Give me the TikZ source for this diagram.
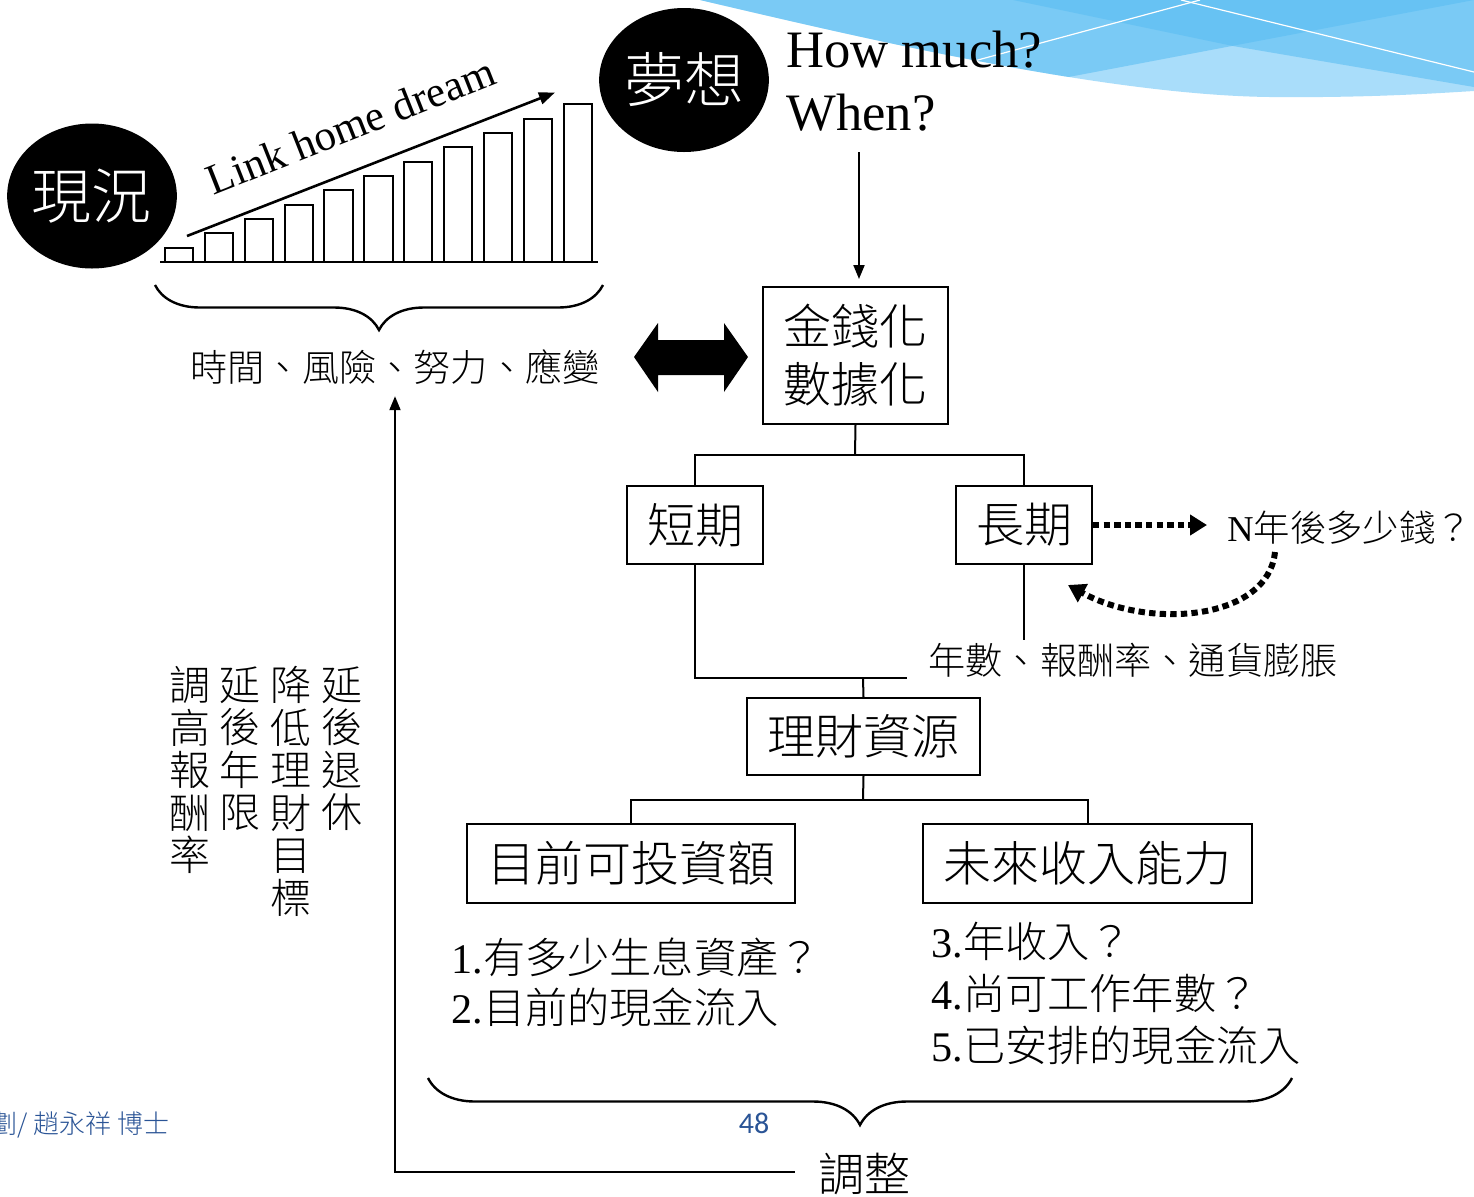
\documentclass[tikz,border=0pt]{standalone}
\usepackage{fontspec}
\setmainfont{Liberation Serif}
\IfFontExistsTF{Noto Sans CJK TC Light}
  {\newfontfamily\cjk{Noto Sans CJK TC Light}}
  {\newfontfamily\cjk{Noto Sans CJK TC}}
\newfontfamily\numfont{Carlito}
\usetikzlibrary{shapes.geometric,decorations.pathreplacing,arrows.meta}
\definecolor{swA}{HTML}{A9DDFA}
\definecolor{swB}{HTML}{5BBEF3}
\definecolor{footblue}{HTML}{2A5496}
\setlength{\lineskiplimit}{-20pt}
\begin{document}
\begin{tikzpicture}[x=0.5pt,y=-0.5pt,
  conn/.style={line width=1pt},
  arr/.style={line width=1pt,-{Triangle[length=7pt,width=5.5pt]}},
  barline/.style={line width=1pt},
  box/.style={draw,line width=1pt,inner sep=0pt,align=center,
    font=\cjk\fontsize{24}{29}\selectfont},
  blob/.style={ellipse,fill=black,text=white,inner sep=0pt,
    font=\cjk\fontsize{30}{30}\selectfont},
  zhsmall/.style={inner sep=0pt,font=\cjk\fontsize{18.6}{22}\selectfont},
  item/.style={inner sep=0pt,anchor=west,font=\fontsize{21.1}{24}\selectfont},
  vcol/.style={inner sep=0pt,align=center,
    font=\cjk\fontsize{20.5}{21.25}\selectfont},
  latin/.style={inner sep=0pt,font=\fontsize{26.3}{30}\selectfont},
  brc/.style={line width=1.2pt,decorate,decoration={brace,mirror,amplitude=#1}},
  dotarrow/.style={line width=3pt,dash pattern=on 3.2pt off 2.1pt,
    -{Triangle[length=8.5pt,width=10pt]}}]
\useasboundingbox (0,0) rectangle (1474,1196);
\fill[white] (0,0) rectangle (1474,1196);

% blue swoosh in the top right corner
\fill[swA] (700,0) .. controls (850,35) and (1100,95) .. (1270,97)
  .. controls (1370,98) and (1440,93) .. (1474,91) -- (1474,0) -- cycle;
\begin{scope}
  \clip (700,0) .. controls (850,35) and (1100,95) .. (1270,97)
    .. controls (1370,98) and (1440,93) .. (1474,91) -- (1474,0) -- cycle;
  \fill[swB,opacity=.6] (700,147) -- (1474,0) -- (700,0) -- cycle;
  \fill[swB,opacity=.6] (1013,0) -- (1233,46) -- (1474,87) -- (1474,0) -- cycle;
  \draw[white,line width=.6pt] (900,81) -- (1200,0);
  \draw[white,line width=.6pt] (1181,0) -- (1474,72);
\end{scope}

% present and dream
\node[blob,minimum width=79pt,minimum height=72.5pt] (now) at (92,196) {現況};
\node[blob,minimum width=79pt,minimum height=72pt] (dream) at (684,80) {夢想};
\node[latin,anchor=base west] (howmuch) at (786,67) {How much?};
\node[latin,anchor=base west] (when) at (786,130) {When?};

% growing bars
\foreach \i in {0,...,10}
  \draw[barline] ({165+39.85*\i},261.5) rectangle ({193.3+39.85*\i},{247.7-14.34*\i});
\draw[barline] (160,261.5) -- (598,261.5);
\coordinate (g0) at (187,236);
\coordinate (g1) at (555,92.5);
\draw[line width=1.3pt,-{Triangle[length=8pt,width=6pt]}] (g0) -- (g1);
\node[inner sep=0pt,font=\fontsize{21.5}{24}\selectfont,rotate=21.6,anchor=base]
  (link) at (356,139) {Link home dream};

\draw[brc=22.5pt] (155,285) -- (603,285);
\node[zhsmall] (risk) at (395,367) {時間、風險、努力、應變};

% two-way arrow
\fill (634,357) -- (658,323) -- (658,340) -- (724,340) -- (724,323) -- (748,357)
  -- (724,392) -- (724,375) -- (658,375) -- (658,392) -- cycle;

% tree of boxes
\node[box,minimum width=92.5pt,minimum height=68.5pt] (money) at (855.5,355.5) {金錢化\\數據化};
\node[box,minimum width=68pt,minimum height=39pt] (short) at (695,525) {短期};
\node[box,minimum width=68pt,minimum height=39pt] (long) at (1024,525) {長期};
\node[box,minimum width=116.5pt,minimum height=38.5pt] (res) at (863.5,736.5) {理財資源};
\node[box,minimum width=164pt,minimum height=39.5pt] (cur) at (631,863.5) {目前可投資額};
\node[box,minimum width=164.5pt,minimum height=39.5pt] (fut) at (1087.5,863.5) {未來收入能力};

\coordinate (wtail) at (859,152);
\draw[arr,shorten >=3.5pt] (wtail) -- (wtail |- money.north);

\coordinate (j1) at (855,455);
\draw[conn] (money.south) -- (j1);
\draw[conn] (short.north) |- (j1) -| (long.north);

\coordinate (j2) at (863,678);
\coordinate (j2e) at (907,678);
\coordinate (j3) at (1023,640);
\draw[conn] (short.south) |- (j2e);
\draw[conn] (j2) -- (res.north);
\draw[conn] (long.south) -- (long.south |- j3);

\coordinate (j4) at (863,800);
\draw[conn] (res.south) -- (j4);
\draw[conn] (cur.north) |- (j4) -| (fut.north);

\node[zhsmall,anchor=west] (param) at (928,660) {年數、報酬率、通貨膨脹};
\node[inner sep=0pt,anchor=west,font=\fontsize{18.2}{22}\selectfont] (nq) at (1227,528) {N{\cjk 年後多少錢？}};

\draw[dotarrow,shorten >=10pt] (long.east) -- (long.east -| nq.west);
\coordinate (cs) at (1275,552);
\coordinate (ce) at (1068,585);
\draw[dotarrow] (cs) .. controls (1268,620) and (1150,630) .. (ce);

% resources
\node[item] (i1) at (451,957) {1.{\cjk 有多少生息資產？}};
\node[item] (i2) at (451,1007) {2.{\cjk 目前的現金流入}};
\node[item] (i3) at (931,941) {3.{\cjk 年收入？}};
\node[item] (i4) at (931,993) {4.{\cjk 尚可工作年數？}};
\node[item] (i5) at (931,1045) {5.{\cjk 已安排的現金流入}};

\draw[brc=23.5pt] (428,1078) -- (1292,1078);

% adjustment loop
\node[inner sep=0pt,font=\cjk\fontsize{23}{26}\selectfont] (adj) at (864,1174) {調整};
\draw[arr,shorten >=5.7pt] (adj.west) ++(-23,-2) -| (risk.south);

\node[vcol] (c1) at (190,770) {調\\高\\報\\酬\\率};
\node[vcol] (c2) at (240,748.75) {延\\後\\年\\限};
\node[vcol] (c3) at (291,791.5) {降\\低\\理\\財\\目\\標};
\node[vcol] (c4) at (342,748.75) {延\\後\\退\\休};

% footer
\node[inner sep=0pt,anchor=east,text=footblue,font=\cjk\fontsize{13}{15}\selectfont] (auth) at (170,1125) {劃/ 趙永祥 博士};
\node[inner sep=0pt,text=footblue,font=\numfont\fontsize{15}{18}\selectfont] (pg) at (754,1123) {48};
\end{tikzpicture}
\end{document}
